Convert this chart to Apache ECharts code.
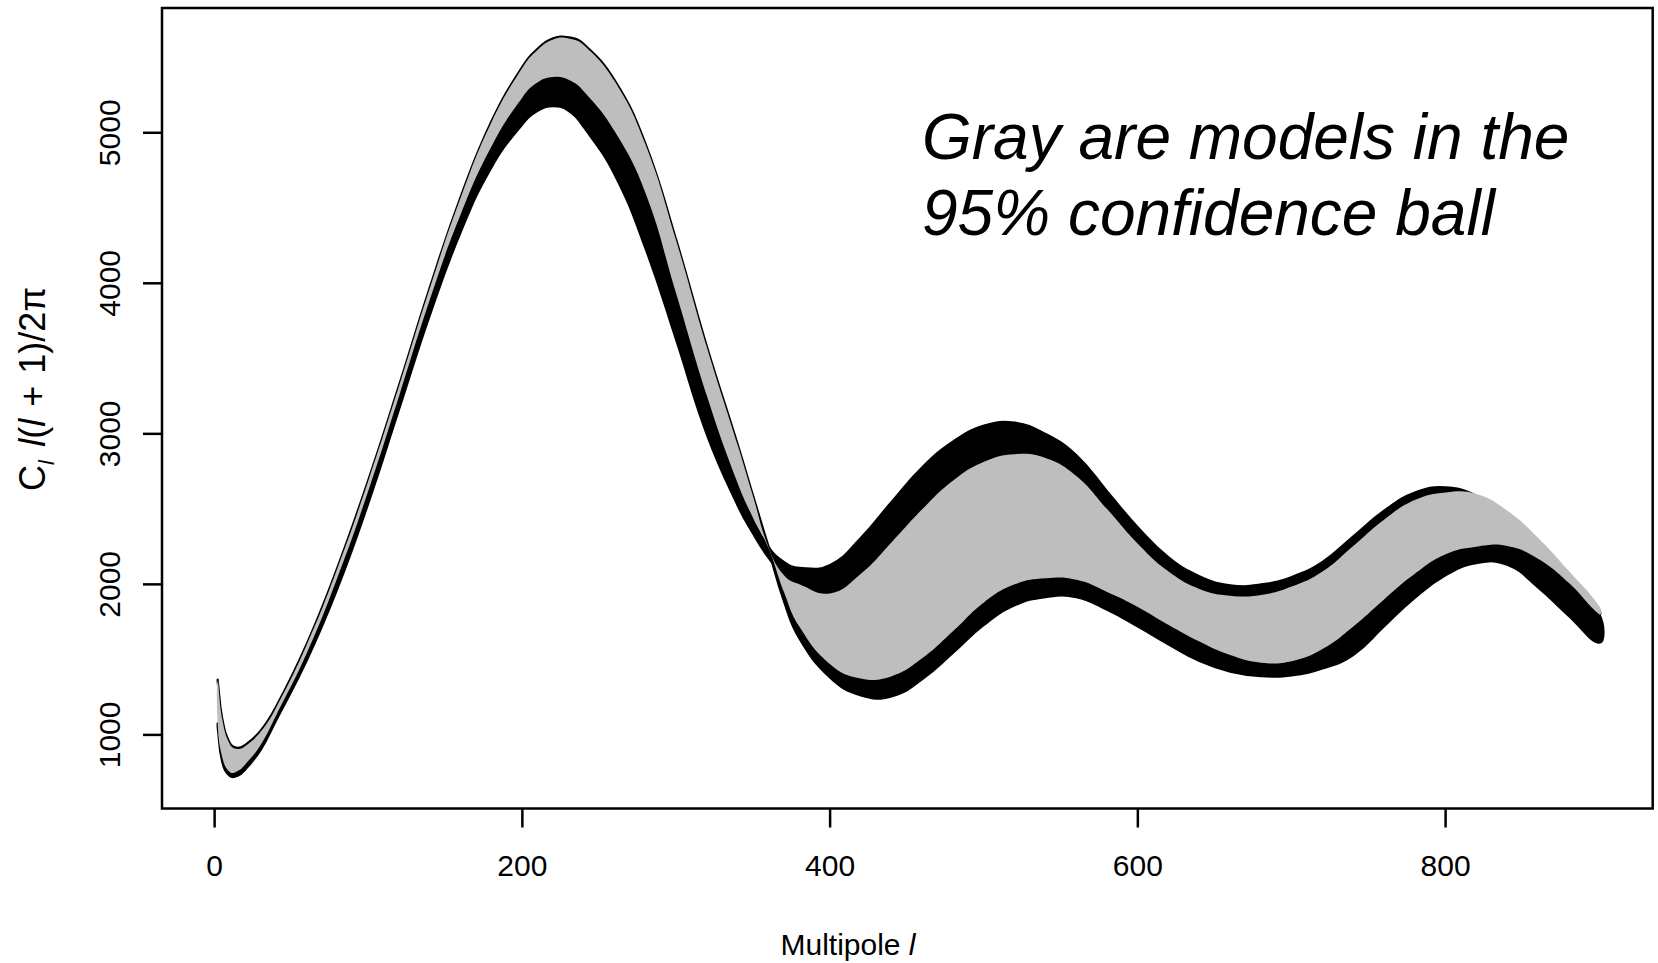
<!DOCTYPE html>
<html>
<head>
<meta charset="utf-8">
<script src="https://cdn.jsdelivr.net/npm/echarts@6/dist/echarts.min.js"></script>
<style>
html,body{margin:0;padding:0;background:#fff;}
#chart{width:1658px;height:963px;}
</style>
</head>
<body>
<div id="chart"></div>
<script>
// Multipole l grid
const multipole = [2,5,10,15,20,30,40,60,80,100,120,140,160,180,200,210,220,230,240,260,280,300,320,340,350,360,370,380,400,420,440,460,480,500,520,540,560,580,600,620,640,660,680,700,720,740,760,780,800,820,840,860,880,900];

// Black model cluster A (highest first peak): top and bottom edge of the cluster
const clusterAHigh = [1366,1110,945,915,935,1030,1190,1610,2120,2700,3330,3980,4580,5080,5440,5560,5628,5635,5590,5350,4930,4290,3580,2930,2590,2255,1950,1720,1470,1375,1390,1510,1690,1880,2000,2040,2030,1950,1850,1730,1620,1530,1480,1490,1570,1720,1900,2070,2200,2250,2255,2170,2010,1800];
const clusterALow  = [1345,1092,930,900,920,1015,1175,1595,2105,2685,3315,3965,4565,5065,5425,5545,5613,5620,5575,5335,4915,4275,3565,2915,2570,2225,1885,1640,1380,1262,1255,1370,1545,1730,1860,1915,1915,1830,1720,1600,1490,1420,1390,1395,1440,1530,1720,1910,2060,2140,2130,1980,1790,1612];

// Black model cluster B (lower first peak)
const clusterBHigh = [1075,850,752,760,805,935,1130,1545,2050,2625,3255,3895,4460,4910,5235,5335,5370,5352,5275,5010,4600,3930,3250,2670,2440,2250,2150,2110,2130,2310,2550,2780,2950,3055,3075,3000,2860,2620,2380,2180,2055,1995,2000,2050,2150,2320,2490,2610,2645,2590,2470,2270,2060,1830];
const clusterBLow  = [1045,815,725,728,770,900,1095,1495,1975,2540,3165,3790,4340,4770,5055,5145,5176,5145,5035,4720,4230,3620,2990,2520,2335,2175,2060,2000,1940,2070,2280,2500,2690,2815,2865,2840,2720,2500,2270,2085,1970,1925,1930,1985,2085,2255,2430,2560,2600,2550,2430,2230,2020,1800];

// Gray models inside the 95% confidence ball: upper and lower envelope
const grayUpper = [1358,1102,937,907,927,1022,1182,1602,2112,2692,3322,3972,4572,5072,5432,5552,5620,5627,5582,5342,4922,4282,3572,2922,2582,2245,2060,2000,1940,2070,2280,2500,2690,2815,2865,2840,2720,2500,2270,2085,1970,1925,1930,1985,2085,2255,2430,2560,2610,2600,2490,2310,2090,1853];
const grayLower = [1075,850,752,760,805,935,1130,1545,2050,2625,3255,3895,4460,4910,5235,5335,5370,5352,5275,5010,4600,3930,3250,2670,2440,2240,1950,1720,1470,1375,1390,1510,1690,1880,2000,2040,2030,1950,1850,1730,1620,1530,1480,1490,1570,1720,1900,2070,2200,2250,2255,2170,2010,1800];

const xTicks = [0,200,400,600,800];
const yTicks = [1000,2000,3000,4000,5000];

const FONT = '"Liberation Sans", Arial, Helvetica, sans-serif';
const TICK_LEN = 19;

function bandLayer(name, upper, lower, fill, stroke, lw) {
  return {
    type: 'custom',
    name: name,
    coordinateSystem: 'cartesian2d',
    data: [[multipole[0], upper[0]]],
    silent: true,
    animation: false,
    clip: true,
    renderItem: function (params, api) {
      const pts = [];
      for (let i = 0; i < multipole.length; i++) pts.push(api.coord([multipole[i], upper[i]]));
      for (let i = multipole.length - 1; i >= 0; i--) pts.push(api.coord([multipole[i], lower[i]]));
      return {
        type: 'polygon',
        shape: { points: pts, smooth: 0.45 },
        style: { fill: fill, stroke: stroke, lineWidth: lw }
      };
    }
  };
}

// tick marks placed through the axes' scales
const tickLayer = {
  type: 'custom',
  name: 'ticks',
  coordinateSystem: 'cartesian2d',
  data: [[xTicks[0], yTicks[0]]],
  silent: true,
  animation: false,
  clip: false,
  renderItem: function (params, api) {
    const cs = params.coordSys;
    const left = cs.x, bottom = cs.y + cs.height;
    const children = [];
    xTicks.forEach(function (v) {
      const p = api.coord([v, 1000]);
      children.push({ type: 'line', shape: { x1: p[0], y1: bottom, x2: p[0], y2: bottom + TICK_LEN },
        style: { stroke: '#000', lineWidth: 2.5 } });
    });
    yTicks.forEach(function (v) {
      const p = api.coord([0, v]);
      children.push({ type: 'line', shape: { x1: left, y1: p[1], x2: left - TICK_LEN, y2: p[1] },
        style: { stroke: '#000', lineWidth: 2.5 } });
    });
    return { type: 'group', children: children };
  }
};

const chart = echarts.init(document.getElementById('chart'), null, { renderer: 'svg' });
chart.setOption({
  animation: false,
  backgroundColor: '#ffffff',
  grid: {
    left: 162, top: 8, width: 1490.7, height: 800.5,
    show: true, borderColor: '#000', borderWidth: 2.5, backgroundColor: 'transparent'
  },
  xAxis: {
    type: 'value', min: -34.2, max: 934.6,
    axisLine: { show: false, onZero: false },
    splitLine: { show: false },
    axisTick: { show: false },
    axisLabel: { customValues: xTicks, margin: 42, fontSize: 30, color: '#000', fontFamily: FONT,
      formatter: function (v) { return String(v); } }
  },
  yAxis: {
    type: 'value', min: 511, max: 5829,
    axisLine: { show: false, onZero: false },
    splitLine: { show: false },
    axisTick: { show: false },
    axisLabel: { customValues: yTicks, rotate: 90, margin: 38, fontSize: 30, color: '#000', fontFamily: FONT,
      formatter: function (v) { return String(v); } }
  },
  graphic: [
    {
      type: 'text', x: 32, y: 389, rotation: Math.PI / 2,
      style: {
        text: '{c|C}{s|l}    {i|l}{n|(}{i|l}{op|+}{n|1)/2π}',
        align: 'center', verticalAlign: 'middle', fill: '#000',
        rich: {
          c: { fontSize: 36, fontFamily: FONT, fill: '#000' },
          s: { fontSize: 22, fontFamily: FONT, fontStyle: 'italic', fill: '#000', lineHeight: 50, verticalAlign: 'bottom' },
          i: { fontSize: 36, fontFamily: FONT, fontStyle: 'italic', fill: '#000' },
          n: { fontSize: 36, fontFamily: FONT, fill: '#000' },
          op: { fontSize: 36, fontFamily: FONT, fill: '#000', padding: [0, 12, 0, 12] }
        }
      }
    },
    {
      type: 'text', x: 848, y: 944,
      style: {
        text: '{n|Multipole }{i|l}',
        align: 'center', verticalAlign: 'middle', fill: '#000',
        rich: {
          n: { fontSize: 30, fontFamily: FONT, fill: '#000' },
          i: { fontSize: 30, fontFamily: FONT, fontStyle: 'italic', fill: '#000' }
        }
      }
    },
    {
      type: 'text', x: 922, y: 137,
      style: { text: 'Gray are models in the', fontSize: 64, fontStyle: 'italic', fontFamily: FONT, fill: '#000', align: 'left', verticalAlign: 'middle' }
    },
    {
      type: 'text', x: 922, y: 213,
      style: { text: '95% confidence ball', fontSize: 64, fontStyle: 'italic', fontFamily: FONT, fill: '#000', align: 'left', verticalAlign: 'middle' }
    }
  ],
  series: [
    bandLayer('clusterA', clusterAHigh, clusterALow, '#000', '#000', 2),
    bandLayer('clusterB', clusterBHigh, clusterBLow, '#000', '#000', 2),
    bandLayer('gray', grayUpper, grayLower, '#bebebe', null, 0),
    tickLayer
  ]
});
</script>
</body>
</html>
